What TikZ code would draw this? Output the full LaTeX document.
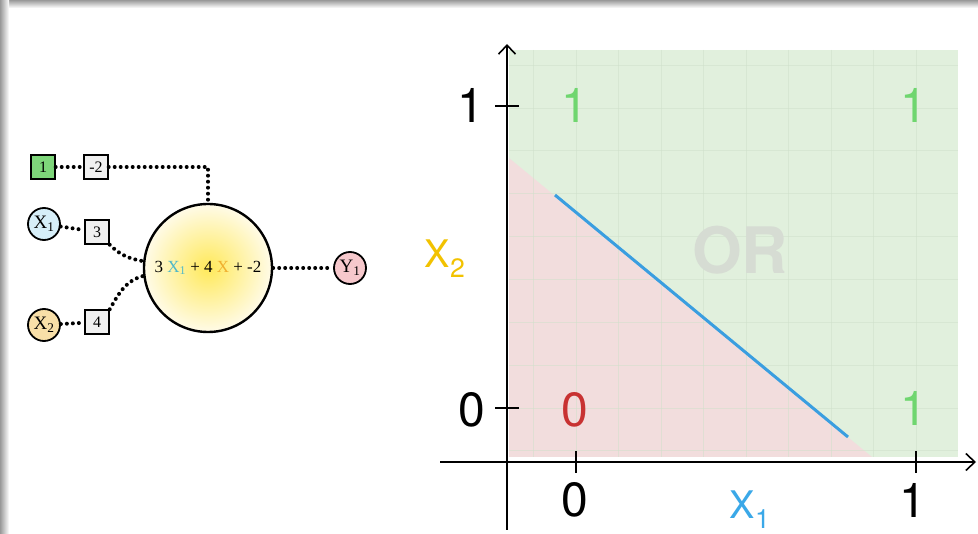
\documentclass[tikz,border=0pt]{standalone}
\usepackage{fontspec}
\setmainfont{Liberation Serif}
\newfontfamily\chartfont{TeX Gyre Heros}
\usepackage{xcolor}
\usetikzlibrary{positioning}
\usetikzlibrary{arrows.meta}

\definecolor{biasgreen}{HTML}{7ED67A}
\definecolor{boxgray}{HTML}{F0F0F0}
\definecolor{xonefill}{HTML}{D6EEF8}
\definecolor{xtwofill}{HTML}{F8DFA8}
\definecolor{yfill}{HTML}{F6C8CC}
\definecolor{xoneteal}{HTML}{4FB8C8}
\definecolor{xtwoorange}{HTML}{F0B030}
\definecolor{neuroncore}{HTML}{FFE95A}
\definecolor{neuronrim}{HTML}{FFFBE8}
\definecolor{orgreen}{HTML}{E1F0DD}
\definecolor{orpink}{HTML}{F2DDDD}
\definecolor{gridgreen}{HTML}{CFE0CB}
\definecolor{onegreen}{HTML}{6FD66F}
\definecolor{zerored}{HTML}{C83232}
\definecolor{lineblue}{HTML}{3A9EE0}
\definecolor{labblue}{HTML}{3AA8E8}
\definecolor{labgold}{HTML}{F2C200}
\definecolor{orgray}{HTML}{D6DCD3}

\tikzset{
  wbox/.style={draw, line width=1.4pt, fill=boxgray, minimum size=24pt, inner sep=0pt,
    font=\fontsize{16}{16}\selectfont},
  innode/.style={circle, draw, line width=1.8pt, minimum size=32pt, inner sep=0pt,
    font=\fontsize{19}{19}\selectfont},
  neuron/.style={circle, draw, line width=2.4pt, minimum size=128pt, inner sep=0pt,
    inner color=neuroncore, outer color=neuronrim, font=\fontsize{17}{17}\selectfont},
  link/.style={line width=4pt, dash pattern=on 0pt off 6pt, line cap=round},
  axis/.style={line width=1.6pt, -{Straight Barb[length=9pt,width=17pt]}},
  tick/.style={line width=1.6pt},
  gridline/.style={draw=gridgreen, line width=0.8pt},
  biglab/.style={font=\chartfont\fontsize{48}{48}\selectfont},
  axlab/.style={font=\chartfont\fontsize{38}{38}\selectfont}
}

\begin{document}
\begin{tikzpicture}[x=1pt,y=1pt,node distance=53pt]
\useasboundingbox (0,0) rectangle (978,-534);
\fill[white] (0,0) rectangle (978,-534);

%frame shadow
\shade[top color=black!40, bottom color=white] (0,0) rectangle (978,-8);
\shade[left color=black!40, right color=white] (0,0) rectangle (9,-534);

%neuron inputs
\node[wbox, fill=biasgreen](b1) at (43,-167) {1};
\node[wbox, right of=b1](w0) {-2};
\node[innode, fill=xonefill](x1) at (44,-224) {X\textsubscript{1}};
\node[wbox, right of=x1, yshift=-8pt](w1) {3};
\node[innode, fill=xtwofill](x2) at (44,-325) {X\textsubscript{2}};
\node[wbox, right of=x2, yshift=3pt](w2) {4};

%neuron and output
\node[neuron](n) at (208,-268) {3 {\color{xoneteal}X\textsubscript{1}} + 4 {\color{xtwoorange}X} + -2};
\node[innode, fill=yfill, right of=n, node distance=142pt](y1) {Y\textsubscript{1}};

\draw[link] (b1)--(w0);
\draw[link] (w0)-|(n);
\draw[link] (x1)--(w1);
\draw[link] (x2)--(w2);
\draw[link] (w1.south east) to[out=-45, in=170] (n.174);
\draw[link] (w2.north east) to[out=60, in=195] (n.187);
\draw[link] (n)--(y1);

%decision regions
\fill[orgreen] (509,-50) rectangle (958,-457);
\fill[orpink] (509,-158) -- (872,-457) -- (509,-457) -- cycle;
\foreach \i in {-1,...,8}
  \draw[gridline, opacity=0.5] ({576+42.5*\i},-50) -- ({576+42.5*\i},-457);
\foreach \j in {-1,...,8}
  \draw[gridline, opacity=0.5] (509,{-408+42.86*\j}) -- (958,{-408+42.86*\j});
\node[font=\chartfont\bfseries\fontsize{64}{64}\selectfont, text=orgray](or) at (740,-250) {OR};
\draw[lineblue, line width=3pt] (555,-195) -- (848,-437);

%axes
\coordinate (ybot) at (507,-530);
\coordinate (ytop) at (507,-44);
\coordinate (xleft) at (440,-462);
\coordinate (xright) at (976,-462);
\draw[axis] (ybot)--(ytop);
\draw[axis] (xleft)--(xright);
\draw[tick] (495,-106)--(519,-106);
\draw[tick] (495,-408)--(519,-408);
\draw[tick] (576,-451)--(576,-473);
\draw[tick] (916,-451)--(916,-473);

%tick labels
\node[biglab](ty1) at (471,-105) {1};
\node[biglab](ty0) at (472,-410) {0};
\node[biglab](tx0) at (575,-500) {0};
\node[biglab](tx1) at (913,-500) {1};
\node[axlab, text=labgold](lx2) at (445,-259) {X\textsubscript{2}};
\node[axlab, text=labblue](lx1) at (750,-510) {X\textsubscript{1}};

%outputs
\node[biglab, text=onegreen](o01) at (575,-105) {1};
\node[biglab, text=onegreen](o11) at (914,-105) {1};
\node[biglab, text=onegreen](o10) at (914,-408) {1};
\node[biglab, text=zerored](o00) at (575,-410) {0};
\end{tikzpicture}
\end{document}
